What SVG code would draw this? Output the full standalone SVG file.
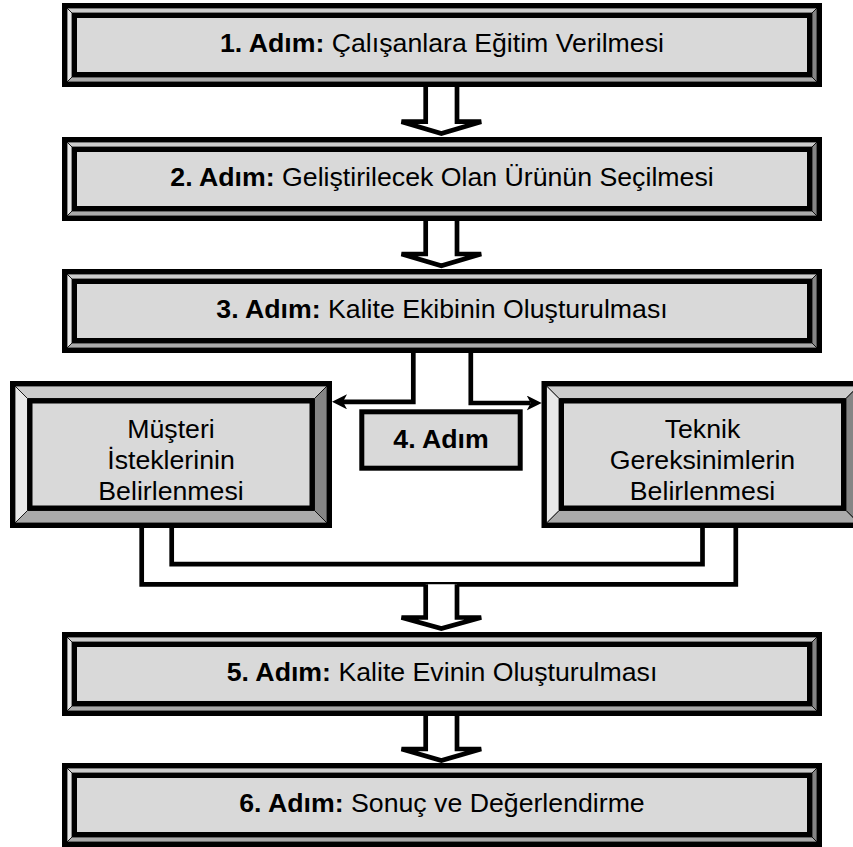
<svg xmlns="http://www.w3.org/2000/svg" xmlns:xlink="http://www.w3.org/1999/xlink" width="853" height="847" viewBox="0 0 853 847">
<style>
.t{font-family:"Liberation Sans",Arial,sans-serif;font-size:26.7px;fill:#000;text-anchor:middle}
.b{font-weight:bold}
.face{fill:#d9d9d9;stroke:#000;stroke-width:5}
.bt{fill:#cccccc;stroke:#000;stroke-width:0.8}
.bl{fill:#e8e8e8;stroke:#000;stroke-width:0.8}
.br{fill:#858585;stroke:#000;stroke-width:0.8}
.bb{fill:#aaaaaa;stroke:#000;stroke-width:0.8}
.ln{fill:none;stroke:#000;stroke-width:4.7}
.hollow{fill:#fff;stroke:#000;stroke-width:4.7}
</style>
<defs>
<g id="mainbox">
<rect x="0" y="0" width="760" height="84" fill="#000"/>
<polygon class="bt" points="5,5 755,5 750,10 10,10"/>
<polygon class="br" points="755,5 755,79 750,74 750,10"/>
<polygon class="bb" points="5,79 755,79 750,74 10,74"/>
<polygon class="bl" points="5,5 10,10 10,74 5,79"/>
<rect class="face" x="12.5" y="12.5" width="735" height="59"/>
</g>
<g id="sidebox">
<rect x="0" y="0" width="322" height="147" fill="#000"/>
<polygon class="bt" points="5,5 317,5 304.5,17.5 17.5,17.5"/>
<polygon class="br" points="317,5 317,142 304.5,129.5 304.5,17.5"/>
<polygon class="bb" points="5,142 317,142 304.5,129.5 17.5,129.5"/>
<polygon class="bl" points="5,5 17.5,17.5 17.5,129.5 5,142"/>
<rect class="face" x="20" y="20" width="282" height="107"/>
</g>
<marker id="ah" viewBox="0 0 15 15" refX="4" refY="7.5" markerWidth="15" markerHeight="15" markerUnits="userSpaceOnUse" orient="auto">
<path d="M0,0 L15,7.5 L0,15 L4,7.5 Z" fill="#000"/>
</marker>
</defs>
<rect width="853" height="847" fill="#fff"/>
<g id="connectors">
<path class="hollow" d="M425.7,85 V121.7 H401.5 L441.35,133.5 L481.2,121.7 H457 V85"/>
<path class="hollow" d="M425.7,219 V254 H401.5 L441.35,265.8 L481.2,254 H457 V219"/>
<path class="ln" d="M413.3,350 V401.8 H343" marker-end="url(#ah)"/>
<path class="ln" d="M470.8,350 V403 H530.7" marker-end="url(#ah)"/>
<path class="ln" d="M141.7,526 V584.3 H735.8 V526"/>
<path class="ln" d="M171.7,526 V564.2 H702.5 V526"/>
<path class="hollow" d="M425.7,584.3 V617.5 H401.5 L441.35,628.5 L481.2,617.5 H457 V584.3"/>
<path class="hollow" d="M425.7,714 V749 H401.5 L441.35,760.5 L481.2,749 H457 V714"/>
</g>
<g id="step1">
<use xlink:href="#mainbox" x="62" y="3"/>
<text class="t" x="442" y="52"><tspan class="b">1. Adım:</tspan> Çalışanlara Eğitim Verilmesi</text>
</g>
<g id="step2">
<use xlink:href="#mainbox" x="62" y="137"/>
<text class="t" x="442" y="186"><tspan class="b">2. Adım:</tspan> Geliştirilecek Olan Ürünün Seçilmesi</text>
</g>
<g id="step3">
<use xlink:href="#mainbox" x="62" y="269"/>
<text class="t" x="442" y="318"><tspan class="b">3. Adım:</tspan> Kalite Ekibinin Oluşturulması</text>
</g>
<g id="musteri">
<use xlink:href="#sidebox" x="10" y="381"/>
<text class="t" x="171" y="438">Müşteri</text>
<text class="t" x="171" y="469">İsteklerinin</text>
<text class="t" x="171" y="500">Belirlenmesi</text>
</g>
<g id="step4">
<rect class="face" x="361.8" y="411.8" width="158.4" height="56.4"/>
<text class="t b" x="441" y="448">4. Adım</text>
</g>
<g id="teknik">
<use xlink:href="#sidebox" x="541.5" y="381"/>
<text class="t" x="702.5" y="438">Teknik</text>
<text class="t" x="702.5" y="469">Gereksinimlerin</text>
<text class="t" x="702.5" y="500">Belirlenmesi</text>
</g>
<g id="step5">
<use xlink:href="#mainbox" x="62" y="632"/>
<text class="t" x="442" y="681"><tspan class="b">5. Adım:</tspan> Kalite Evinin Oluşturulması</text>
</g>
<g id="step6">
<use xlink:href="#mainbox" x="62" y="763"/>
<text class="t" x="442" y="812"><tspan class="b">6. Adım:</tspan> Sonuç ve Değerlendirme</text>
</g>
</svg>
